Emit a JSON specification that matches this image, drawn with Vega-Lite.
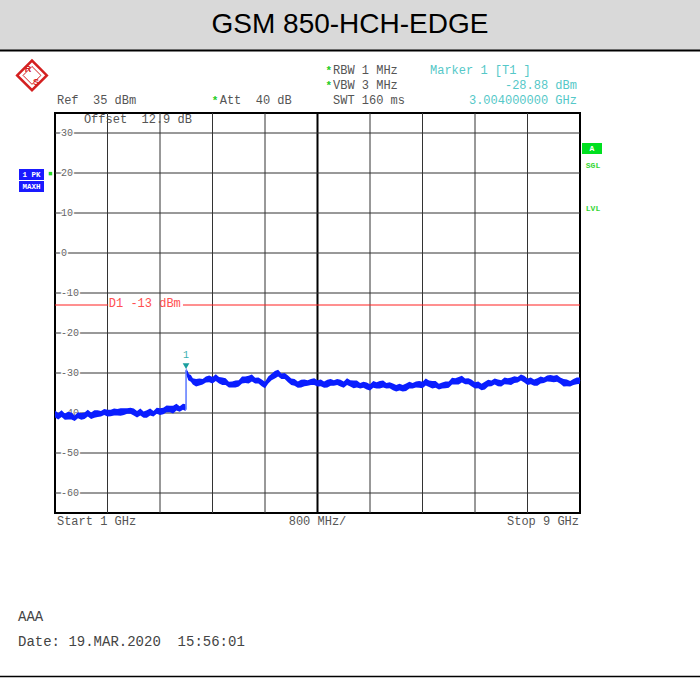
{
 "$schema": "https://vega.github.io/schema/vega-lite/v6.json",
 "width": 525,
 "height": 400,
 "autosize": {"type": "none"},
 "padding": {"left": 55, "top": 113, "right": 120, "bottom": 167},
 "background": "white",
 "config": {"view": {"stroke": "black", "strokeWidth": 2}},
 "datasets": {
  "trace1": [
   {"f":1.0,"v":-40.3,"hi":-39.4,"lo":-41.1},{"f":1.05,"v":-40.6,"hi":-40.0,"lo":-41.6},{"f":1.1,"v":-40.4,"hi":-39.3,"lo":-41.0},
   {"f":1.15,"v":-40.8,"hi":-40.1,"lo":-41.7},{"f":1.2,"v":-40.5,"hi":-39.7,"lo":-41.6},{"f":1.25,"v":-40.9,"hi":-39.9,"lo":-41.6},
   {"f":1.3,"v":-41.1,"hi":-40.6,"lo":-42.0},{"f":1.35,"v":-40.7,"hi":-39.8,"lo":-41.3},{"f":1.4,"v":-40.9,"hi":-40.0,"lo":-41.7},
   {"f":1.45,"v":-40.5,"hi":-39.9,"lo":-41.5},{"f":1.5,"v":-40.3,"hi":-39.2,"lo":-40.9},{"f":1.55,"v":-40.6,"hi":-39.9,"lo":-41.5},
   {"f":1.6,"v":-40.1,"hi":-39.3,"lo":-41.2},{"f":1.65,"v":-40.3,"hi":-39.3,"lo":-41.0},{"f":1.7,"v":-40.0,"hi":-39.5,"lo":-40.9},
   {"f":1.75,"v":-39.9,"hi":-39.0,"lo":-40.5},{"f":1.8,"v":-40.1,"hi":-39.2,"lo":-40.9},{"f":1.85,"v":-39.8,"hi":-39.2,"lo":-40.8},
   {"f":1.9,"v":-40.0,"hi":-38.9,"lo":-40.6},{"f":1.95,"v":-39.7,"hi":-39.0,"lo":-40.6},{"f":2.0,"v":-39.6,"hi":-38.8,"lo":-40.7},
   {"f":2.05,"v":-39.8,"hi":-38.8,"lo":-40.5},{"f":2.1,"v":-39.3,"hi":-38.8,"lo":-40.2},{"f":2.15,"v":-39.6,"hi":-38.7,"lo":-40.2},
   {"f":2.2,"v":-39.8,"hi":-38.9,"lo":-40.6},{"f":2.25,"v":-40.1,"hi":-39.5,"lo":-41.1},{"f":2.3,"v":-40.0,"hi":-38.9,"lo":-40.6},
   {"f":2.35,"v":-40.3,"hi":-39.6,"lo":-41.2},{"f":2.4,"v":-40.1,"hi":-39.3,"lo":-41.2},{"f":2.45,"v":-39.9,"hi":-38.9,"lo":-40.6},
   {"f":2.5,"v":-40.0,"hi":-39.5,"lo":-40.9},{"f":2.55,"v":-39.6,"hi":-38.7,"lo":-40.2},{"f":2.6,"v":-39.7,"hi":-38.8,"lo":-40.5},
   {"f":2.65,"v":-39.3,"hi":-38.7,"lo":-40.3},{"f":2.7,"v":-39.2,"hi":-38.1,"lo":-39.8},{"f":2.75,"v":-38.9,"hi":-38.2,"lo":-39.8},
   {"f":2.8,"v":-39.0,"hi":-38.2,"lo":-40.1},{"f":2.85,"v":-38.7,"hi":-37.7,"lo":-39.4},{"f":2.9,"v":-38.8,"hi":-38.3,"lo":-39.7},
   {"f":2.95,"v":-38.6,"hi":-37.7,"lo":-39.2},{"f":2.99,"v":-38.7,"hi":-37.8,"lo":-39.5}
  ],
  "trace2": [
   {"f":3.004,"v":-29.6,"hi":-28.7,"lo":-30.4},{"f":3.03,"v":-30.8,"hi":-30.2,"lo":-31.8},{"f":3.07,"v":-31.6,"hi":-30.5,"lo":-32.2},
   {"f":3.1,"v":-32.0,"hi":-31.3,"lo":-32.9},{"f":3.15,"v":-32.3,"hi":-31.5,"lo":-33.4},{"f":3.2,"v":-32.4,"hi":-31.4,"lo":-33.1},
   {"f":3.25,"v":-32.0,"hi":-31.5,"lo":-32.9},{"f":3.3,"v":-31.8,"hi":-30.9,"lo":-32.4},{"f":3.35,"v":-31.5,"hi":-30.6,"lo":-32.3},
   {"f":3.4,"v":-31.6,"hi":-31.0,"lo":-32.6},{"f":3.45,"v":-31.4,"hi":-30.3,"lo":-32.0},{"f":3.5,"v":-31.7,"hi":-31.0,"lo":-32.6},
   {"f":3.55,"v":-31.9,"hi":-31.1,"lo":-33.0},{"f":3.6,"v":-32.3,"hi":-31.3,"lo":-33.0},{"f":3.65,"v":-32.7,"hi":-32.2,"lo":-33.6},
   {"f":3.7,"v":-33.0,"hi":-32.1,"lo":-33.6},{"f":3.75,"v":-32.8,"hi":-31.9,"lo":-33.6},{"f":3.8,"v":-32.4,"hi":-31.8,"lo":-33.4},
   {"f":3.85,"v":-32.0,"hi":-30.9,"lo":-32.6},{"f":3.9,"v":-31.6,"hi":-30.9,"lo":-32.5},{"f":3.95,"v":-31.5,"hi":-30.7,"lo":-32.6},
   {"f":4.0,"v":-31.4,"hi":-30.4,"lo":-32.1},{"f":4.05,"v":-31.7,"hi":-31.2,"lo":-32.6},{"f":4.1,"v":-32.0,"hi":-31.1,"lo":-32.6},
   {"f":4.15,"v":-32.5,"hi":-31.6,"lo":-33.3},{"f":4.2,"v":-32.8,"hi":-32.2,"lo":-33.8},{"f":4.25,"v":-32.0,"hi":-30.9,"lo":-32.6},
   {"f":4.3,"v":-30.9,"hi":-30.2,"lo":-31.8},{"f":4.35,"v":-30.3,"hi":-29.5,"lo":-31.4},{"f":4.4,"v":-30.2,"hi":-29.2,"lo":-30.9},
   {"f":4.45,"v":-30.6,"hi":-30.1,"lo":-31.5},{"f":4.5,"v":-30.9,"hi":-30.0,"lo":-31.5},{"f":4.55,"v":-31.5,"hi":-30.6,"lo":-32.3},
   {"f":4.6,"v":-32.0,"hi":-31.4,"lo":-33.0},{"f":4.65,"v":-32.6,"hi":-31.5,"lo":-33.2},{"f":4.7,"v":-32.8,"hi":-32.1,"lo":-33.7},
   {"f":4.75,"v":-32.5,"hi":-31.7,"lo":-33.6},{"f":4.8,"v":-32.6,"hi":-31.6,"lo":-33.3},{"f":4.85,"v":-32.3,"hi":-31.8,"lo":-33.2},
   {"f":4.9,"v":-32.4,"hi":-31.5,"lo":-33.0},{"f":4.95,"v":-32.2,"hi":-31.3,"lo":-33.0},{"f":5.0,"v":-32.4,"hi":-31.8,"lo":-33.4},
   {"f":5.05,"v":-32.7,"hi":-31.6,"lo":-33.3},{"f":5.1,"v":-32.8,"hi":-32.1,"lo":-33.7},{"f":5.15,"v":-32.5,"hi":-31.7,"lo":-33.6},
   {"f":5.2,"v":-32.5,"hi":-31.5,"lo":-33.2},{"f":5.25,"v":-32.3,"hi":-31.8,"lo":-33.2},{"f":5.3,"v":-32.4,"hi":-31.5,"lo":-33.0},
   {"f":5.35,"v":-32.6,"hi":-31.7,"lo":-33.4},{"f":5.4,"v":-32.7,"hi":-32.1,"lo":-33.7},{"f":5.45,"v":-32.4,"hi":-31.3,"lo":-33.0},
   {"f":5.5,"v":-32.5,"hi":-31.8,"lo":-33.4},{"f":5.55,"v":-32.7,"hi":-31.9,"lo":-33.8},{"f":5.6,"v":-32.9,"hi":-31.9,"lo":-33.6},
   {"f":5.65,"v":-33.0,"hi":-32.5,"lo":-33.9},{"f":5.7,"v":-33.1,"hi":-32.2,"lo":-33.7},{"f":5.75,"v":-33.3,"hi":-32.4,"lo":-34.1},
   {"f":5.8,"v":-33.4,"hi":-32.8,"lo":-34.4},{"f":5.85,"v":-33.1,"hi":-32.0,"lo":-33.7},{"f":5.9,"v":-33.0,"hi":-32.3,"lo":-33.9},
   {"f":5.95,"v":-32.8,"hi":-32.0,"lo":-33.9},{"f":6.0,"v":-32.9,"hi":-31.9,"lo":-33.6},{"f":6.05,"v":-33.0,"hi":-32.5,"lo":-33.9},
   {"f":6.1,"v":-33.2,"hi":-32.3,"lo":-33.8},{"f":6.15,"v":-33.5,"hi":-32.6,"lo":-34.3},{"f":6.2,"v":-33.6,"hi":-33.0,"lo":-34.6},
   {"f":6.25,"v":-33.8,"hi":-32.7,"lo":-34.4},{"f":6.3,"v":-33.7,"hi":-33.0,"lo":-34.6},{"f":6.35,"v":-33.4,"hi":-32.6,"lo":-34.5},
   {"f":6.4,"v":-33.2,"hi":-32.2,"lo":-33.9},{"f":6.45,"v":-33.0,"hi":-32.5,"lo":-33.9},{"f":6.5,"v":-33.0,"hi":-32.1,"lo":-33.6},
   {"f":6.55,"v":-32.9,"hi":-32.0,"lo":-33.7},{"f":6.6,"v":-32.8,"hi":-32.2,"lo":-33.8},{"f":6.65,"v":-32.5,"hi":-31.4,"lo":-33.1},
   {"f":6.7,"v":-32.6,"hi":-31.9,"lo":-33.5},{"f":6.75,"v":-32.8,"hi":-32.0,"lo":-33.9},{"f":6.8,"v":-33.0,"hi":-32.0,"lo":-33.7},
   {"f":6.85,"v":-33.2,"hi":-32.7,"lo":-34.1},{"f":6.9,"v":-33.3,"hi":-32.4,"lo":-33.9},{"f":6.95,"v":-33.0,"hi":-32.1,"lo":-33.8},
   {"f":7.0,"v":-32.7,"hi":-32.1,"lo":-33.7},{"f":7.05,"v":-32.3,"hi":-31.2,"lo":-32.9},{"f":7.1,"v":-32.0,"hi":-31.3,"lo":-32.9},
   {"f":7.15,"v":-31.8,"hi":-31.0,"lo":-32.9},{"f":7.2,"v":-31.7,"hi":-30.7,"lo":-32.4},{"f":7.25,"v":-31.9,"hi":-31.4,"lo":-32.8},
   {"f":7.3,"v":-32.2,"hi":-31.3,"lo":-32.8},{"f":7.35,"v":-32.6,"hi":-31.7,"lo":-33.4},{"f":7.4,"v":-32.9,"hi":-32.3,"lo":-33.9},
   {"f":7.45,"v":-33.2,"hi":-32.1,"lo":-33.8},{"f":7.5,"v":-33.4,"hi":-32.7,"lo":-34.3},{"f":7.55,"v":-33.0,"hi":-32.2,"lo":-34.1},
   {"f":7.6,"v":-32.7,"hi":-31.7,"lo":-33.4},{"f":7.65,"v":-32.4,"hi":-31.9,"lo":-33.3},{"f":7.7,"v":-32.3,"hi":-31.4,"lo":-32.9},
   {"f":7.75,"v":-32.5,"hi":-31.6,"lo":-33.3},{"f":7.8,"v":-32.4,"hi":-31.8,"lo":-33.4},{"f":7.85,"v":-32.2,"hi":-31.1,"lo":-32.8},
   {"f":7.9,"v":-32.0,"hi":-31.3,"lo":-32.9},{"f":7.95,"v":-31.9,"hi":-31.1,"lo":-33.0},{"f":8.0,"v":-31.8,"hi":-30.8,"lo":-32.5},
   {"f":8.05,"v":-31.5,"hi":-31.0,"lo":-32.4},{"f":8.1,"v":-31.3,"hi":-30.4,"lo":-31.9},{"f":8.15,"v":-31.6,"hi":-30.7,"lo":-32.4},
   {"f":8.2,"v":-32.0,"hi":-31.4,"lo":-33.0},{"f":8.25,"v":-32.2,"hi":-31.1,"lo":-32.8},{"f":8.3,"v":-32.3,"hi":-31.6,"lo":-33.2},
   {"f":8.35,"v":-32.1,"hi":-31.3,"lo":-33.2},{"f":8.4,"v":-31.9,"hi":-30.9,"lo":-32.6},{"f":8.45,"v":-31.6,"hi":-31.1,"lo":-32.5},
   {"f":8.5,"v":-31.5,"hi":-30.6,"lo":-32.1},{"f":8.55,"v":-31.4,"hi":-30.5,"lo":-32.2},{"f":8.6,"v":-31.3,"hi":-30.7,"lo":-32.3},
   {"f":8.65,"v":-31.6,"hi":-30.5,"lo":-32.2},{"f":8.7,"v":-31.8,"hi":-31.1,"lo":-32.7},{"f":8.75,"v":-32.3,"hi":-31.5,"lo":-33.4},
   {"f":8.8,"v":-32.6,"hi":-31.6,"lo":-33.3},{"f":8.85,"v":-32.5,"hi":-32.0,"lo":-33.4},{"f":8.9,"v":-32.4,"hi":-31.5,"lo":-33.0},
   {"f":8.95,"v":-32.0,"hi":-31.1,"lo":-32.8},{"f":9.0,"v":-31.7,"hi":-31.1,"lo":-32.7}
  ],
  "gridV": [
   {"f":1.8,"v":-65,"v2":35},{"f":2.6,"v":-65,"v2":35},{"f":3.4,"v":-65,"v2":35},{"f":4.2,"v":-65,"v2":35},
   {"f":5.8,"v":-65,"v2":35},{"f":6.6,"v":-65,"v2":35},{"f":7.4,"v":-65,"v2":35},{"f":8.2,"v":-65,"v2":35}
  ],
  "gridH": [
   {"v":30,"f":1,"f2":9},{"v":20,"f":1,"f2":9},{"v":10,"f":1,"f2":9},{"v":0,"f":1,"f2":9},{"v":-10,"f":1,"f2":9},
   {"v":-20,"f":1,"f2":9},{"v":-30,"f":1,"f2":9},{"v":-40,"f":1,"f2":9},{"v":-50,"f":1,"f2":9},{"v":-60,"f":1,"f2":9}
  ],
  "ylabels": [
   {"v":30,"f":1.09,"t":"30"},{"v":20,"f":1.09,"t":"20"},{"v":10,"f":1.09,"t":"10"},{"v":0,"f":1.09,"t":"0"},
   {"v":-10,"f":1.09,"t":"-10"},{"v":-20,"f":1.09,"t":"-20"},{"v":-30,"f":1.09,"t":"-30"},{"v":-40,"f":1.09,"t":"-40"},
   {"v":-50,"f":1.09,"t":"-50"},{"v":-60,"f":1.09,"t":"-60"}
  ],
  "hdrLeft": [
   {"f":1.03,"v":38.25,"t":"Ref \u00a035 dBm"},
   {"f":3.51,"v":38.25,"t":"Att \u00a040 dB"},
   {"f":5.236,"v":45.75,"t":"RBW 1 MHz"},
   {"f":5.236,"v":42,"t":"VBW 3 MHz"},
   {"f":5.236,"v":38.25,"t":"SWT 160 ms"},
   {"f":1.44,"v":33.5,"t":"Offset \u00a012.9 dB"},
   {"f":1.03,"v":-67,"t":"Start 1 GHz"}
  ],
  "stars": [
   {"f":3.39,"v":38.1,"t":"*"},{"f":5.12,"v":45.6,"t":"*"},{"f":5.12,"v":41.85,"t":"*"}
  ],
  "bottomC": [{"f":5.0,"v":-67,"t":"800 MHz/"}],
  "bottomR": [{"f":8.985,"v":-67,"t":"Stop 9 GHz"}],
  "markerInfoL": [{"f":6.714,"v":45.75,"t":"Marker 1 [T1 ]"}],
  "markerInfoR": [{"f":8.954,"v":42,"t":"-28.88 dBm"},{"f":8.954,"v":38.25,"t":"3.004000000 GHz"}],
  "footer": [{"f":0.436,"v":-91,"t":"AAA"},{"f":0.436,"v":-97.25,"t":"Date: 19.MAR.2020 \u00a015:56:01"}]
 },
 "encoding": {
  "x": {"field": "f", "type": "quantitative", "scale": {"domain": [1, 9], "nice": false, "zero": false}, "axis": null},
  "y": {"field": "v", "type": "quantitative", "scale": {"domain": [-65, 35], "nice": false, "zero": false}, "axis": null}
 },
 "layer": [
  {"data": {"values": [{"f":0,"f2":11,"v":50.75,"v2":64}]}, "mark": {"type":"rect","fill":"#d9d9d9"},
   "encoding": {"x2": {"field":"f2"}, "y2": {"field":"v2"}}},
  {"data": {"values": [{"f":0,"f2":11,"v":50.6}]}, "mark": {"type":"rule","stroke":"black","strokeWidth":2},
   "encoding": {"x2": {"field":"f2"}}},
  {"data": {"values": [{"f":0,"f2":11,"v":-105.9}]}, "mark": {"type":"rule","stroke":"black","strokeWidth":1.5},
   "encoding": {"x2": {"field":"f2"}}},
  {"data": {"values": [{"f":5.495,"v":57,"t":"GSM 850-HCH-EDGE"}]},
   "mark": {"type":"text","font":"Liberation Sans","fontSize":28,"align":"center","baseline":"middle","fill":"black"},
   "encoding": {"text": {"field":"t"}}},
  {"data": {"name": "gridV"}, "mark": {"type":"rule","stroke":"#333","strokeWidth":1},
   "encoding": {"y2": {"field":"v2"}}},
  {"data": {"values": [{"f":5,"v":-65,"v2":35}]}, "mark": {"type":"rule","stroke":"black","strokeWidth":2},
   "encoding": {"y2": {"field":"v2"}}},
  {"data": {"name": "gridH"}, "mark": {"type":"rule","stroke":"#333","strokeWidth":1},
   "encoding": {"x2": {"field":"f2"}}},
  {"data": {"values": [{"f":1,"f2":1.81,"v":-13},{"f":2.95,"f2":9,"v":-13}]}, "mark": {"type":"rule","stroke":"#ff2020","strokeWidth":1},
   "encoding": {"x2": {"field":"f2"}}},
  {"data": {"values": [{"f":1.82,"v":-12.4,"t":"D1 -13 dBm"}]},
   "mark": {"type":"text","font":"Liberation Mono","fontSize":12,"align":"left","baseline":"middle","fill":"#ff5050"},
   "encoding": {"text": {"field":"t"}}},
  {"data": {"name": "ylabels"},
   "mark": {"type":"text","font":"Liberation Mono","fontSize":10,"align":"left","baseline":"middle","fill":"white","stroke":"white","strokeWidth":3},
   "encoding": {"text": {"field":"t"}}},
  {"data": {"name": "ylabels"},
   "mark": {"type":"text","font":"Liberation Mono","fontSize":10,"align":"left","baseline":"middle","fill":"#666"},
   "encoding": {"text": {"field":"t"}}},
  {"data": {"name": "hdrLeft"},
   "mark": {"type":"text","font":"Liberation Mono","fontSize":12,"align":"left","baseline":"middle","fill":"#555"},
   "encoding": {"text": {"field":"t"}}},
  {"data": {"name": "stars"},
   "mark": {"type":"text","font":"Liberation Mono","fontSize":11,"align":"left","baseline":"middle","fill":"#22cc22","fontWeight":"bold"},
   "encoding": {"text": {"field":"t"}}},
  {"data": {"name": "bottomC"},
   "mark": {"type":"text","font":"Liberation Mono","fontSize":12,"align":"center","baseline":"middle","fill":"#555"},
   "encoding": {"text": {"field":"t"}}},
  {"data": {"name": "bottomR"},
   "mark": {"type":"text","font":"Liberation Mono","fontSize":12,"align":"right","baseline":"middle","fill":"#555"},
   "encoding": {"text": {"field":"t"}}},
  {"data": {"name": "markerInfoL"},
   "mark": {"type":"text","font":"Liberation Mono","fontSize":12,"align":"left","baseline":"middle","fill":"#55c8c8"},
   "encoding": {"text": {"field":"t"}}},
  {"data": {"name": "markerInfoR"},
   "mark": {"type":"text","font":"Liberation Mono","fontSize":12,"align":"right","baseline":"middle","fill":"#55c8c8"},
   "encoding": {"text": {"field":"t"}}},
  {"data": {"name": "footer"},
   "mark": {"type":"text","font":"Liberation Mono","fontSize":14,"align":"left","baseline":"middle","fill":"#444"},
   "encoding": {"text": {"field":"t"}}},
  {"data": {"name": "trace1"}, "mark": {"type":"area","fill":"#0a1eff","opacity":1},
   "encoding": {"y": {"field":"hi","type":"quantitative"}, "y2": {"field":"lo"}}},
  {"data": {"name": "trace1"}, "mark": {"type":"line","stroke":"#0a1eff","strokeWidth":2.5}},
  {"data": {"name": "trace2"}, "mark": {"type":"area","fill":"#0a1eff","opacity":1},
   "encoding": {"y": {"field":"hi","type":"quantitative"}, "y2": {"field":"lo"}}},
  {"data": {"name": "trace2"}, "mark": {"type":"line","stroke":"#0a1eff","strokeWidth":2.5}},
  {"data": {"values": [{"f":2.997,"v":-39.2,"v2":-29.2}]}, "mark": {"type":"rule","stroke":"#5a78ff","strokeWidth":1.5},
   "encoding": {"y2": {"field":"v2"}}},
  {"data": {"values": [{"f":2.997,"v":-28.3}]}, "mark": {"type":"point","shape":"triangle-down","size":45,"filled":true,"fill":"#1a9e9e","opacity":1}},
  {"data": {"values": [{"f":2.997,"v":-25.5,"t":"1"}]},
   "mark": {"type":"text","font":"Liberation Mono","fontSize":10,"align":"center","baseline":"middle","fill":"#3ab0b0"},
   "encoding": {"text": {"field":"t"}}},
  {"data": {"values": [{"f":0.4514,"f2":0.8324,"v":21,"v2":18.25},{"f":0.4514,"f2":0.8324,"v":18,"v2":15.25}]},
   "mark": {"type":"rect","fill":"#1a1aff"},
   "encoding": {"x2": {"field":"f2"}, "y2": {"field":"v2"}}},
  {"data": {"values": [{"f":0.642,"v":19.6,"t":"1  PK"},{"f":0.642,"v":16.6,"t":"MAXH"}]},
   "mark": {"type":"text","font":"Liberation Mono","fontSize":7.5,"fontWeight":"bold","align":"center","baseline":"middle","fill":"white"},
   "encoding": {"text": {"field":"t"}}},
  {"data": {"values": [{"f":0.931,"v":19.85}]}, "mark": {"type":"square","size":12,"fill":"#22dd22","opacity":1}},
  {"data": {"values": [{"f":9.0305,"f2":9.335,"v":27.5,"v2":24.75}]}, "mark": {"type":"rect","fill":"#00e020"},
   "encoding": {"x2": {"field":"f2"}, "y2": {"field":"v2"}}},
  {"data": {"values": [{"f":9.183,"v":26.1,"t":"A"}]},
   "mark": {"type":"text","font":"Liberation Mono","fontSize":8,"fontWeight":"bold","align":"center","baseline":"middle","fill":"white"},
   "encoding": {"text": {"field":"t"}}},
  {"data": {"values": [{"f":9.198,"v":21.8,"t":"SGL"},{"f":9.198,"v":11,"t":"LVL"}]},
   "mark": {"type":"text","font":"Liberation Mono","fontSize":8,"fontWeight":"bold","align":"center","baseline":"middle","fill":"#33d633"},
   "encoding": {"text": {"field":"t"}}},
  {"data": {"values": [{"f":0.6495,"v":44.4}]}, "mark": {"type":"point","shape":"diamond","size":880,"filled":false,"stroke":"#d42020","strokeWidth":2.5,"opacity":1}},
  {"data": {"values": [{"f":0.6495,"v":44.4}]}, "mark": {"type":"point","shape":"diamond","size":320,"filled":false,"stroke":"#d42020","strokeWidth":1,"opacity":1}},
  {"data": {"values": [{"f":0.59,"v":46.1,"t":"R"},{"f":0.71,"v":42.7,"t":"S"}]},
   "mark": {"type":"text","font":"Liberation Sans","fontSize":9,"fontWeight":"bold","align":"center","baseline":"middle","fill":"#d42020"},
   "encoding": {"text": {"field":"t"}}}
 ]
}
